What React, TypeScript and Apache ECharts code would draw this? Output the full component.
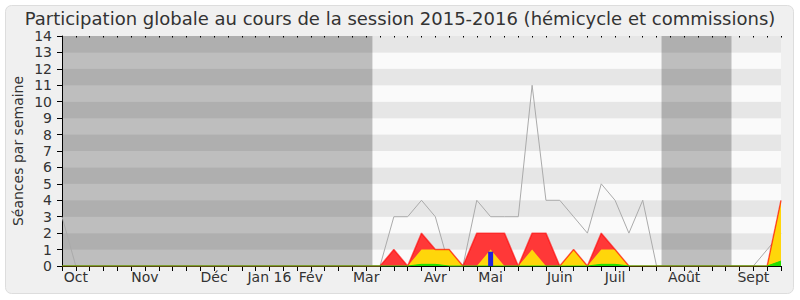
import React, { useEffect, useRef } from "react";
import * as echarts from "echarts";

const TITLE = "Participation globale au cours de la session 2015-2016 (hémicycle et commissions)";
const Y_NAME = "Séances par semaine";

// week index 0..52
const monthLabels = ["Oct", "Nov", "Déc", "Jan 16", "Fév", "Mar", "Avr", "Mai", "Juin", "Juil", "Août", "Sept"];
const monthLabelWeeks = [1, 6, 11, 15, 18, 22, 27, 31, 36, 40, 45, 50];

// periods outside of mandate / session (in weeks)
const inactivePeriods: [number, number][] = [
  [0, 22.45],
  [43.36, 48.42],
];

// median weekly sessions (gray line)
const medianValues = [
  3, 0, 0, 0, 0, 0, 0, 0, 0, 0, 0, 0, 0, 0, 0, 0, 0, 0, 0, 0, 0, 0, 0,
  0, 3, 3, 4, 3, 0, 0, 4, 3, 3, 3, 11, 4, 4, 3, 2, 5, 4, 2, 4,
  0, 0, 0, 0, 0, 0, 0, 0, 1, 2,
];
// total presences (red)
const presenceValues = [
  0, 0, 0, 0, 0, 0, 0, 0, 0, 0, 0, 0, 0, 0, 0, 0, 0, 0, 0, 0, 0, 0, 0,
  0, 1, 0, 2, 1, 1, 0, 2, 2, 2, 0, 2, 2, 0, 1, 0, 2, 1, 0, 0,
  0, 0, 0, 0, 0, 0, 0, 0, 0, 4,
];
// commission presences (yellow)
const commissionValues = [
  0, 0, 0, 0, 0, 0, 0, 0, 0, 0, 0, 0, 0, 0, 0, 0, 0, 0, 0, 0, 0, 0, 0,
  0, 0, 0, 1, 1, 1, 0, 0, 1, 0, 0, 1, 0, 0, 1, 0, 1, 1, 0, 0,
  0, 0, 0, 0, 0, 0, 0, 0, 0, 4,
];
// participations (green)
const participationValues = [
  0, 0, 0, 0, 0, 0, 0, 0, 0, 0, 0, 0, 0, 0, 0, 0, 0, 0, 0, 0, 0, 0, 0,
  0, 0, 0, 0.1, 0.1, 0, 0, 0, 0, 0, 0, 0, 0, 0, 0, 0, 0.1, 0.1, 0, 0,
  0, 0, 0, 0, 0, 0, 0, 0, 0, 0.3,
];
// oral questions (blue bar)
const questionWeeks = [31];
const questionValues = [0.87];

const pairs = (vals: number[]) => vals.map((v, i) => [i, v]);

export default function App() {
  const ref = useRef<HTMLDivElement>(null);
  useEffect(() => {
    if (!ref.current) return;
    const chart = echarts.init(ref.current, null, { renderer: "svg" });
    const font = "DejaVu Sans";
    const labelMap: Record<number, string> = {};
    monthLabelWeeks.forEach((w, k) => (labelMap[w] = monthLabels[k]));
    const lastWeek = medianValues.length - 1;

    chart.setOption({
      animation: false,
      backgroundColor: "#ffffff",
      textStyle: { fontFamily: font },
      title: {
        text: TITLE,
        left: "center",
        top: 8,
        padding: 0,
        textStyle: { fontFamily: font, fontSize: 18, lineHeight: 20, fontWeight: "normal", color: "#333" },
      },
      graphic: [
        {
          type: "rect",
          z: -10,
          shape: { x: 5.5, y: 5.5, width: 788, height: 288, r: 6 },
          style: { fill: "#f0f0f0", stroke: "#dddddd", lineWidth: 1 },
        },
        {
          type: "text",
          x: 18,
          y: 151,
          rotation: Math.PI / 2,
          style: {
            text: Y_NAME,
            fontFamily: font,
            fontSize: 14,
            fill: "#333333",
            align: "center",
            verticalAlign: "middle",
          },
        },
      ],
      grid: { left: 62, right: 19, top: 36, bottom: 34 },
      xAxis: [
        {
          type: "value",
          min: 0,
          max: lastWeek,
          interval: 1,
          axisLine: { show: true, lineStyle: { color: "#000", width: 1 } },
          axisTick: { show: true, length: 5, lineStyle: { color: "#000" } },
          splitLine: { show: false },
          axisLabel: {
            margin: 4,
            fontSize: 14,
            color: "#333",
            fontFamily: font,
            showMinLabel: true,
            showMaxLabel: true,
            formatter: (v: number) => labelMap[v] ?? "",
          },
        },
        {
          type: "value",
          position: "top",
          min: 0,
          max: lastWeek,
          interval: 1,
          axisLine: { show: false },
          axisTick: { show: true, inside: true, length: 1.5, lineStyle: { color: "#000" } },
          axisLabel: { show: false },
          splitLine: { show: false },
        },
      ],
      yAxis: {
        type: "value",
        min: 0,
        max: 14,
        interval: 1,
        axisLine: { show: true, lineStyle: { color: "#000", width: 1 } },
        axisTick: { show: true, length: 5, lineStyle: { color: "#000" } },
        axisLabel: { margin: 10, fontSize: 14, color: "#333", fontFamily: font },
        splitLine: { show: false },
        splitArea: { show: true, areaStyle: { color: ["#fafafa", "#e6e6e6"] } },
      },
      series: [
        {
          type: "line",
          z: 1,
          data: pairs(medianValues),
          showSymbol: false,
          lineStyle: { opacity: 0 },
          silent: true,
          markArea: {
            silent: true,
            itemStyle: { color: "rgba(0,0,0,0.24)" },
            data: inactivePeriods.map(([a, b]) => [{ xAxis: a }, { xAxis: b }]),
          },
        },
        {
          name: "Médiane",
          type: "line",
          z: 2,
          data: pairs(medianValues),
          showSymbol: false,
          lineStyle: { color: "#aaaaaa", width: 1 },
        },
        {
          name: "Présences",
          type: "line",
          z: 3,
          data: pairs(presenceValues),
          showSymbol: false,
          lineStyle: { width: 0, opacity: 0 },
          areaStyle: { color: "#ff3838", opacity: 1 },
        },
        {
          name: "Commission",
          type: "line",
          z: 4,
          data: pairs(commissionValues),
          showSymbol: false,
          lineStyle: { width: 0, opacity: 0 },
          areaStyle: { color: "#ffd60a", opacity: 1 },
        },
        {
          type: "line",
          z: 5,
          data: pairs(presenceValues),
          showSymbol: false,
          lineStyle: { color: "rgba(255,0,0,0.6)", width: 1.5 },
        },
        {
          name: "Participations",
          type: "line",
          z: 6,
          data: pairs(participationValues),
          showSymbol: false,
          lineStyle: { color: "#22dd00", width: 1 },
          areaStyle: { color: "#22dd00", opacity: 1 },
        },
        {
          name: "Questions",
          type: "bar",
          z: 7,
          barWidth: 5,
          data: questionWeeks.map((w, k) => [w, questionValues[k]]),
          itemStyle: { color: "#2222dd" },
        },
      ],
    });
    return () => chart.dispose();
  }, []);
  return <div ref={ref} style={{ position: "absolute", left: 0, top: 0, width: 800, height: 300 }} />;
}
